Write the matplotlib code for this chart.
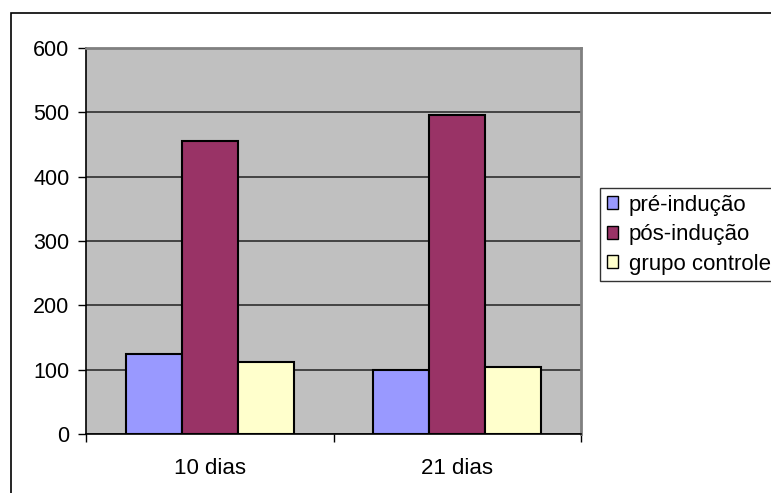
import matplotlib
matplotlib.use("Agg")
import matplotlib.pyplot as plt
from matplotlib.patches import Rectangle, Patch
import numpy as np

plt.rcParams['font.family'] = ['Liberation Sans', 'DejaVu Sans']

categories = ["10 dias", "21 dias"]
series_names = ["pré-indução", "pós-indução", "grupo controle"]
pre_inducao = [124, 100]
pos_inducao = [455, 496]
grupo_controle = [112, 104]
y_ticks = [0, 100, 200, 300, 400, 500, 600]

colors = ["#9999FF", "#993366", "#FFFFCC"]

fig = plt.figure(figsize=(7.71, 4.93), dpi=100)
ax = fig.add_axes([86/771, 59/493, (581-86)/771, (434-48)/493])
ax.set_facecolor("#C0C0C0")

x = np.arange(len(categories))
w = 0.226
for i, (vals, c) in enumerate(zip([pre_inducao, pos_inducao, grupo_controle], colors)):
    ax.bar(x + (i - 1) * w, vals, width=w, color=c, edgecolor="black",
           linewidth=1.5, zorder=3)

ax.set_xlim(-0.5, len(categories) - 0.5)
ax.set_ylim(0, 600)
ax.set_yticks(y_ticks)
ax.set_yticklabels([str(v) for v in y_ticks], fontsize=15.5)
ax.yaxis.grid(True, color="#222222", linewidth=1.1, zorder=1)
ax.set_axisbelow(True)

ax.set_xticks(np.arange(-0.5, len(categories)))
ax.set_xticklabels([])
ax.set_xticks(x, minor=True)
ax.set_xticklabels(categories, minor=True, fontsize=16)
ax.tick_params(axis="x", which="major", direction="out", length=6, width=1, color="black")
ax.tick_params(axis="x", which="minor", length=0, pad=17)
ax.tick_params(axis="y", direction="out", length=6, width=1, color="black", pad=6)

for s in ["left", "bottom"]:
    ax.spines[s].set_color("black")
    ax.spines[s].set_linewidth(1.2)
for s in ["top", "right"]:
    ax.spines[s].set_color("#808080")
    ax.spines[s].set_linewidth(2)

handles = [Patch(facecolor=c, edgecolor="black", linewidth=1) for c in colors]
leg = fig.legend(handles, series_names, loc="upper left",
                 bbox_to_anchor=(600/771, 1 - 188/493), fontsize=16,
                 frameon=True, fancybox=False, handlelength=0.5, handleheight=0.5,
                 handletextpad=0.5, labelspacing=0.38, borderpad=0.3,
                 borderaxespad=0)
leg.get_frame().set_edgecolor("black")
leg.get_frame().set_linewidth(1)

fig.patches.append(Rectangle((11/771, -0.1), 1.0, (493-13)/493 + 0.1,
                             transform=fig.transFigure, fill=False,
                             edgecolor="black", linewidth=1.2, zorder=0))

fig.savefig("out.png", dpi=100)
